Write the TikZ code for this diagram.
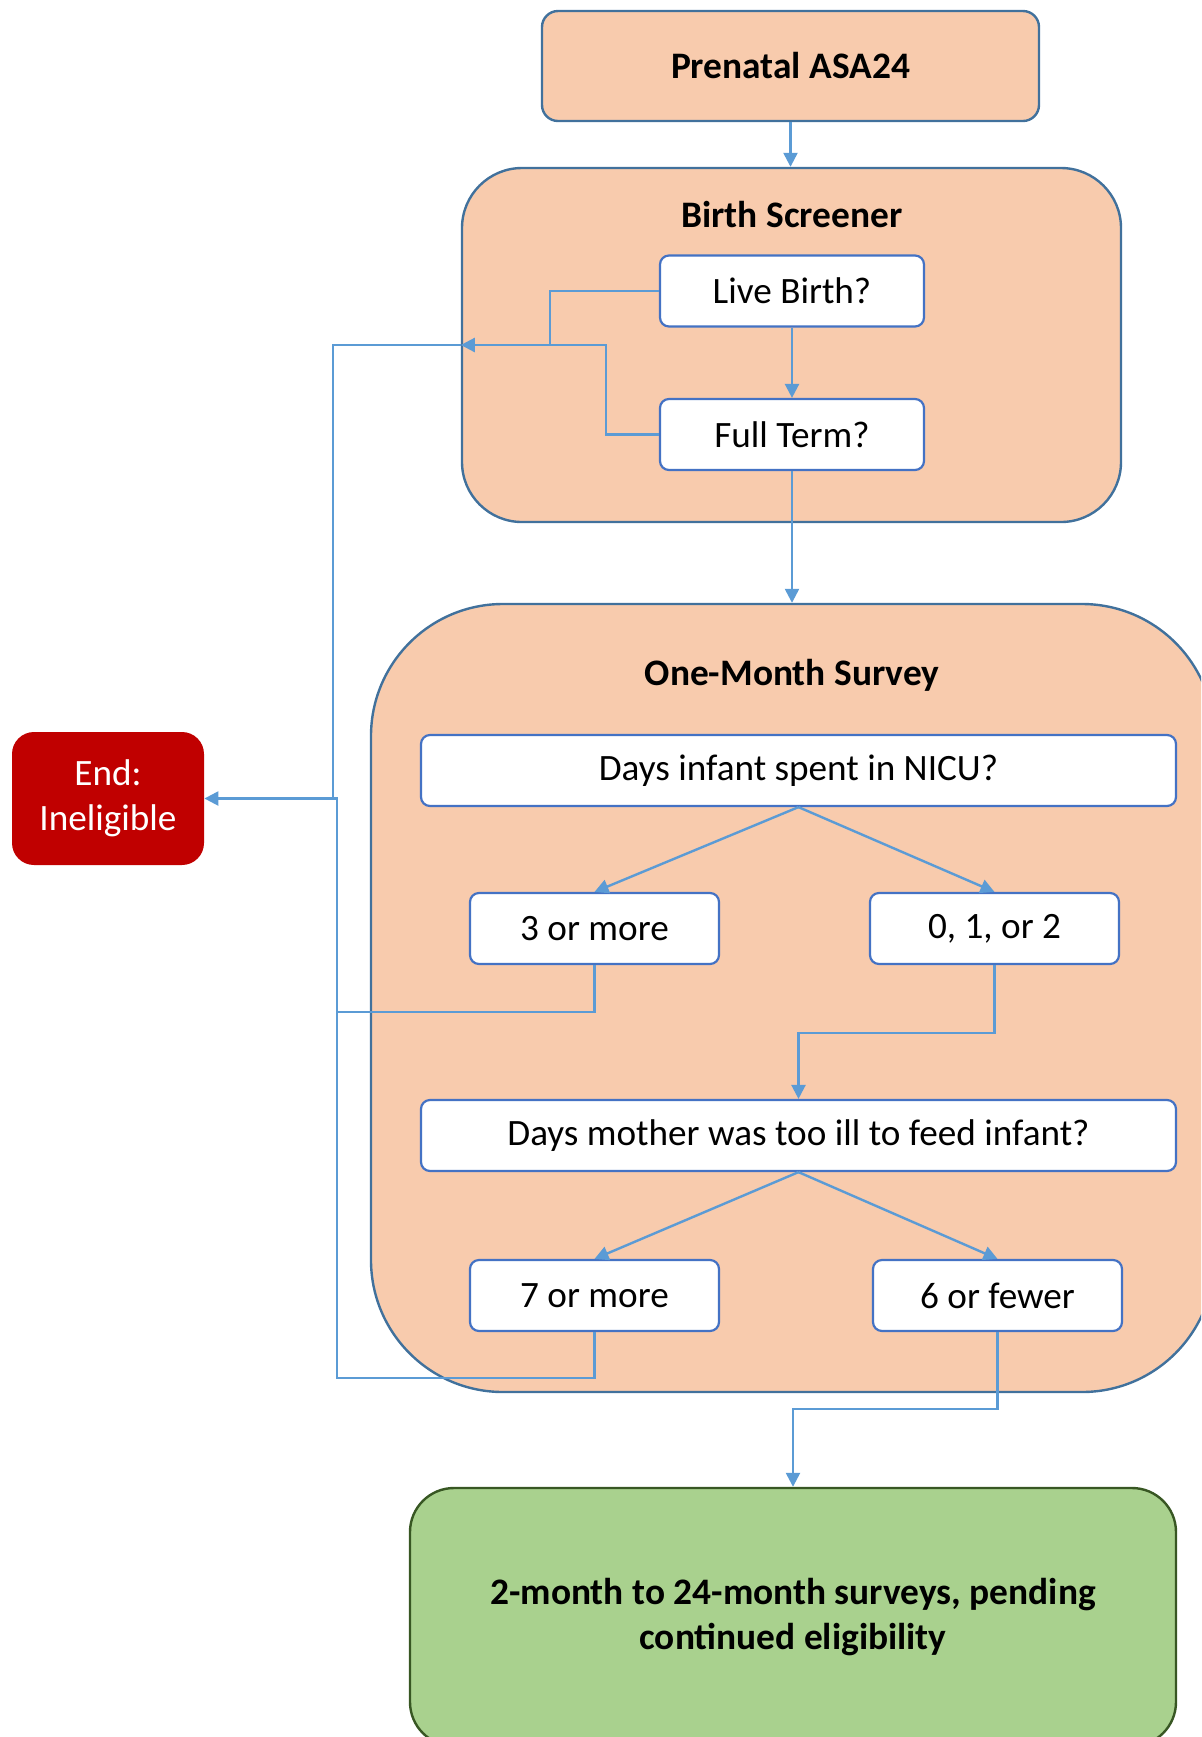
\documentclass[tikz,border=0pt]{standalone}
\usepackage{fontspec}
\setmainfont{Carlito}
\usetikzlibrary{arrows.meta}
\definecolor{peach}{HTML}{F8CBAD}
\definecolor{peachline}{HTML}{41719C}
\definecolor{boxline}{HTML}{4472C4}
\definecolor{connc}{HTML}{5B9BD5}
\definecolor{greenfill}{HTML}{A9D18E}
\definecolor{greenline}{HTML}{385723}
\definecolor{endred}{HTML}{C00000}
\begin{document}
\begin{tikzpicture}[x=0.5pt,y=-0.5pt,
  outerbox/.style={draw=peachline, line width=1.2pt, fill=peach, inner sep=0pt},
  innerbox/.style={draw=boxline, fill=white, line width=1.1pt, rounded corners=4.5pt,
     minimum height=35.5pt, inner sep=0pt, font=\fontsize{18.6}{23}\selectfont},
  titletext/.style={font=\fontsize{18.7}{22}\selectfont\bfseries, inner sep=0pt},
  connline/.style={draw=connc, line width=1.2pt},
  thinline/.style={draw=connc, line width=0.7pt},
  arrline/.style={connline, -{Triangle[length=7pt,width=7pt]}}]
\path[use as bounding box] (0,0) rectangle (1201,1737);
\clip (0,0) rectangle (1201,1737);

% outer containers
\node[outerbox, rounded corners=8pt, minimum width=248.5pt, minimum height=55pt,
      font=\fontsize{18.7}{22}\selectfont\bfseries] (pre) at (790.5,66) {Prenatal ASA24};
\node[outerbox, rounded corners=30pt, minimum width=329.5pt, minimum height=177pt] (bs) at (791.5,345) {};
\node[titletext] (bstitle) at (792,215) {Birth Screener};
\node[outerbox, rounded corners=66pt, minimum width=421.5pt, minimum height=394pt] (oms) at (792.5,998) {};
\node[titletext] (omstitle) at (792,675) {One-Month Survey};
\node[draw=greenline, line width=1.2pt, fill=greenfill, rounded corners=22pt, inner sep=0pt,
      minimum width=383pt, minimum height=129pt, align=center,
      font=\fontsize{18.7}{22.7}\selectfont\bfseries] (green) at (793,1617)
      {2-month to 24-month surveys, pending\\continued eligibility};
\node[fill=endred, rounded corners=11pt, inner sep=0pt, minimum width=96pt, minimum height=66.5pt,
      text=white, align=center, font=\fontsize{18.6}{22.7}\selectfont] (end) at (108,798.5)
      {End:\\Ineligible};

% inner boxes
\node[innerbox, minimum width=132pt] (live) at (792,291) {Live Birth?};
\node[innerbox, minimum width=132pt] (full) at (792,434.5) {Full Term?};
\node[innerbox, minimum width=377.5pt] (nicu) at (798.5,770.5) {Days infant spent in NICU?};
\node[innerbox, minimum width=124.5pt] (three) at (594.5,928.5) {3 or more};
\node[innerbox, minimum width=124.5pt] (zero) at (994.5,928.5) {0, 1, or 2};
\node[innerbox, minimum width=377.5pt] (mother) at (798.5,1135.5) {Days mother was too ill to feed infant?};
\node[innerbox, minimum width=124.5pt] (seven) at (594.5,1295.5) {7 or more};
\node[innerbox, minimum width=124.5pt] (six) at (997.5,1295.5) {6 or fewer};

% junction coordinates
\coordinate (j1) at (550,345);
\coordinate (j2) at (606,345);
\coordinate (t1) at (333,345);
\coordinate (t2) at (333,798.5);
\coordinate (k1) at (337,1012);
\coordinate (k2) at (337,1378);
\coordinate (k3) at (337,798.5);
\coordinate (m1) at (994.5,1033);
\coordinate (n1) at (997.5,1409);

% connectors
\draw[arrline] (pre.south) -- (pre.south |- bs.north);
\draw[arrline] (live.south) -- (full.north);
\draw[arrline] (full.west) -| (j2) -- (bs.west);
\draw[connline] (live.west) -| (j1);
\draw[thinline] (bs.west) -- (t1) -- (t2);
\draw[arrline] (full.south) -- (full.south |- oms.north);
\draw[arrline] (nicu.south) -- (three.north);
\draw[arrline] (nicu.south) -- (zero.north);
\draw[connline] (three.south) |- (k1);
\draw[arrline] (zero.south) -- (m1) -| (mother.north);
\draw[arrline] (mother.south) -- (seven.north);
\draw[arrline] (mother.south) -- (six.north);
\draw[arrline] (seven.south) |- (k2) -- (k3) -- (end.east);
\draw[arrline] (six.south) -- (n1) -| (green.north);
\end{tikzpicture}
\end{document}
